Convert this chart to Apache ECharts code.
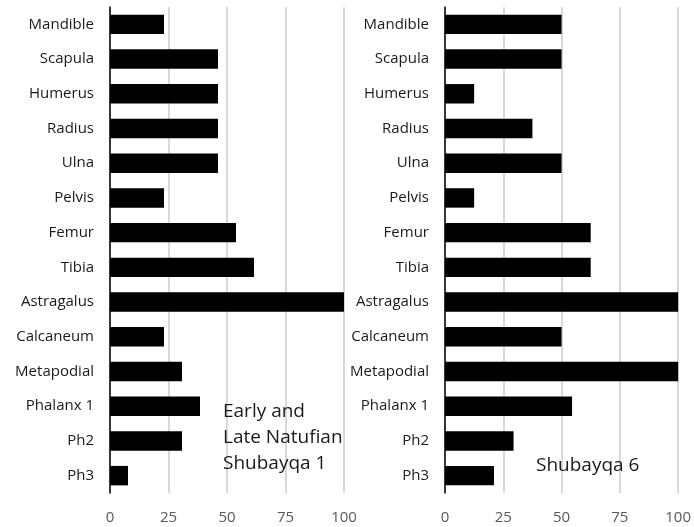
<!DOCTYPE html>
<html><head><meta charset="utf-8">
<script src="https://cdn.jsdelivr.net/npm/echarts@6/dist/echarts.min.js"></script>
<style>html,body{margin:0;padding:0;background:#fff}#c{width:694px;height:527px}</style>
</head><body><div id="c"></div>
<script>
const categories = ['Mandible','Scapula','Humerus','Radius','Ulna','Pelvis','Femur','Tibia','Astragalus','Calcaneum','Metapodial','Phalanx 1','Ph2','Ph3'];
const shubayqa1 = [23.08,46.15,46.15,46.15,46.15,23.08,53.85,61.54,100,23.08,30.77,38.46,30.77,7.69];
const shubayqa6 = [50,50,12.5,37.5,50,12.5,62.5,62.5,100,50,100,54.5,29.4,21];
const xTicks = [0,25,50,75,100];

const FONT = 'Open Sans';
const chart = echarts.init(document.getElementById('c'));
function xAxis(i){
  return {gridIndex:i,type:'value',min:xTicks[0],max:xTicks[xTicks.length-1],interval:xTicks[1]-xTicks[0],
    axisLine:{show:false},axisTick:{show:false},
    splitLine:{lineStyle:{color:'#d9d9d9',width:2}},
    axisLabel:{color:'#595959',fontSize:15,fontFamily:FONT,margin:17}};
}
function yAxis(i){
  return {gridIndex:i,type:'category',data:categories,inverse:true,
    axisLine:{lineStyle:{color:'#000',width:1.5}},axisTick:{show:false},
    axisLabel:{color:'#1a1a1a',fontSize:15,fontFamily:FONT,margin:16}};
}
chart.setOption({
  animation:false,
  grid:[{left:110,top:7,width:234,height:486},{left:445,top:7,width:234,height:486}],
  xAxis:[xAxis(0),xAxis(1)],
  yAxis:[yAxis(0),yAxis(1)],
  series:[
    {type:'bar',xAxisIndex:0,yAxisIndex:0,data:shubayqa1,barWidth:'56%',itemStyle:{color:'#000'}},
    {type:'bar',xAxisIndex:1,yAxisIndex:1,data:shubayqa6,barWidth:'56%',itemStyle:{color:'#000'}}
  ],
  graphic:[
    {type:'text',left:223,top:399,z:100,style:{text:'Early and\nLate Natufian\nShubayqa 1',fill:'#1a1a1a',fontSize:19,fontFamily:FONT,lineHeight:26}},
    {type:'text',left:536,top:453,z:100,style:{text:'Shubayqa 6',fill:'#1a1a1a',fontSize:19,fontFamily:FONT,lineHeight:26}}
  ]
});
</script></body></html>
